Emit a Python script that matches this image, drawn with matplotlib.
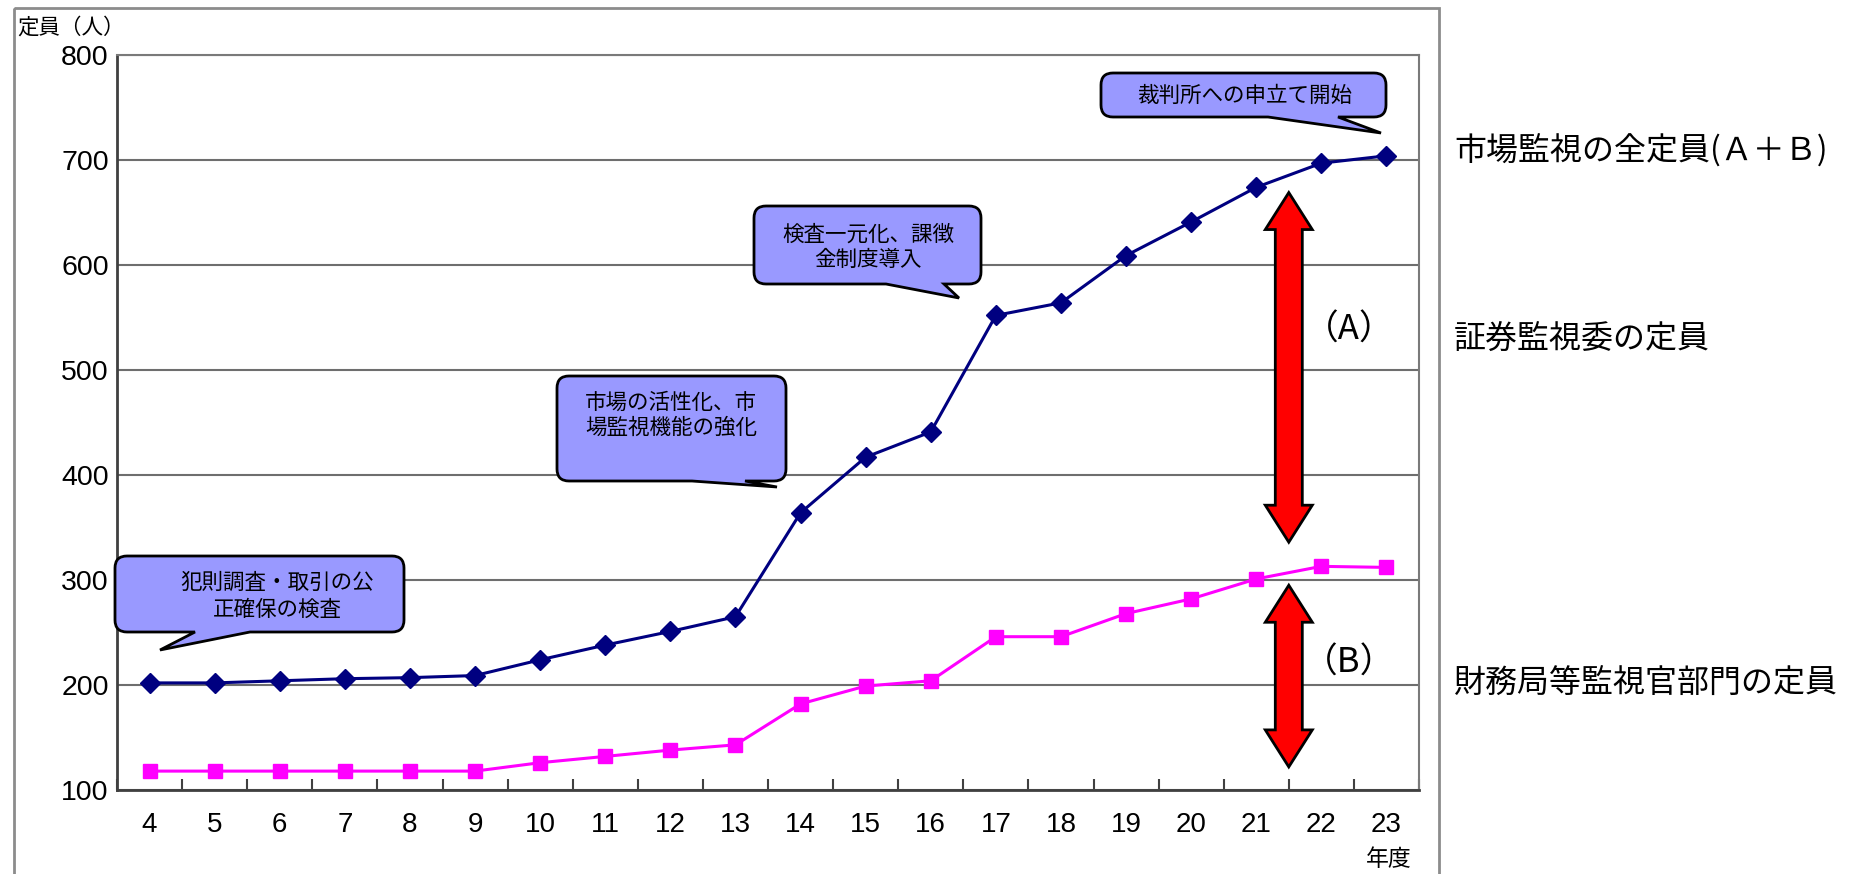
import numpy as np
import matplotlib
matplotlib.use("Agg")
import matplotlib.pyplot as plt
from matplotlib.path import Path
from matplotlib.patches import PathPatch, Polygon, Rectangle
import matplotlib.transforms as mtransforms

# ---------------- data ----------------
years = ["4", "5", "6", "7", "8", "9", "10", "11", "12", "13",
         "14", "15", "16", "17", "18", "19", "20", "21", "22", "23"]
total_staff = [202, 202, 204, 206, 207, 209, 224, 238, 251, 265,
               364, 417, 441, 552, 564, 609, 641, 674, 697, 704]
bureau_staff = [118, 118, 118, 118, 118, 118, 126, 132, 138, 143,
                182, 199, 204, 246, 246, 268, 282, 301, 313, 312]
y_ticks = [100, 200, 300, 400, 500, 600, 700, 800]

callout_texts = [["犯則調査・取引の公", "正確保の検査"],
                 ["市場の活性化、市", "場監視機能の強化"],
                 ["検査一元化、課徴", "金制度導入"],
                 ["裁判所への申立て開始"]]
side_labels = ["市場監視の全定員(Ａ＋Ｂ)", "証券監視委の定員", "財務局等監視官部門の定員"]
arrow_labels = ["（A）", "（B）"]
y_label = "定員（人）"
x_label = "年度"

# ---------------- figure ----------------
plt.rcParams['font.family'] = ['Noto Sans CJK JP', 'DejaVu Sans']
W, H = 1856, 874
fig = plt.figure(figsize=(W / 100, H / 100), dpi=100)
fig.patch.set_facecolor('white')

# pixel-coordinate transform (origin top-left, y down)
pxT = mtransforms.Affine2D().scale(1 / W, -1 / H).translate(0, 1) + fig.transFigure

# outer frame
fig.patches.append(Rectangle((14, 8), 1439 - 14, 900, transform=pxT, fill=False,
                             ec='#8c8c8c', lw=2, clip_on=False))

AX_L, AX_R, AX_T, AX_B = 117, 1419, 55, 790
ax = fig.add_axes([AX_L / W, 1 - AX_B / H, (AX_R - AX_L) / W, (AX_B - AX_T) / H])
x = np.arange(len(years))
ax.plot(x, total_staff, color='#000080', lw=2.2, marker='D', ms=10, zorder=4)
ax.plot(x, bureau_staff, color='#FF00FF', lw=2.2, marker='s', ms=10.5, zorder=4)
ax.set_xlim(-0.5, len(years) - 0.5)
ax.set_ylim(100, 800)
ax.set_yticks(y_ticks)
ax.set_yticklabels([str(v) for v in y_ticks], fontsize=20.5, family=['Liberation Sans', 'DejaVu Sans'])
ax.yaxis.grid(True, color='#6e6e6e', lw=1.5)
ax.set_axisbelow(True)
ax.tick_params(axis='y', length=0, pad=6)
ax.set_xticks(np.arange(-0.5, len(years), 1))
ax.set_xticklabels([])
ax.set_xticks(x, minor=True)
ax.set_xticklabels(years, minor=True, fontsize=20, family=['Liberation Sans', 'DejaVu Sans'])
ax.tick_params(axis='x', which='major', direction='in', length=8, width=1.5, color='#404040')
ax.tick_params(axis='x', which='minor', length=0, pad=16)
for side in ['top', 'right']:
    ax.spines[side].set_color('#7a7a7a')
    ax.spines[side].set_linewidth(1.5)
for side in ['left', 'bottom']:
    ax.spines[side].set_color('#404040')
    ax.spines[side].set_linewidth(2)

# ---------------- red double arrows ----------------
px_per_x = (AX_R - AX_L) / len(years)
px_per_y = (AX_B - AX_T) / (800 - 100)


def double_arrow(xc, y0, y1, shaft_px=27, head_px=47, headlen_px=37):
    hs = shaft_px / 2 / px_per_x
    hh = head_px / 2 / px_per_x
    hl = headlen_px / px_per_y
    verts = [(xc - hs, y0 + hl), (xc - hh, y0 + hl), (xc, y0), (xc + hh, y0 + hl),
             (xc + hs, y0 + hl), (xc + hs, y1 - hl), (xc + hh, y1 - hl), (xc, y1),
             (xc - hh, y1 - hl), (xc - hs, y1 - hl)]
    ax.add_patch(Polygon(verts, closed=True, fc='#FF0000', ec='black', lw=2,
                         zorder=5, clip_on=False, joinstyle='miter'))


double_arrow(17.5, 336, 669)
double_arrow(17.5, 122, 295)

# ---------------- callouts ----------------
def callout(box, tail, r=12):
    x0, y0, x1, y1 = box
    bx0, bx1, tx, ty = tail
    M, L, C, Z = Path.MOVETO, Path.LINETO, Path.CURVE3, Path.CLOSEPOLY
    verts = [(x0 + r, y0), (x1 - r, y0), (x1, y0), (x1, y0 + r), (x1, y1 - r),
             (x1, y1), (x1 - r, y1), (bx1, y1), (tx, ty), (bx0, y1), (x0 + r, y1),
             (x0, y1), (x0, y1 - r), (x0, y0 + r), (x0, y0), (x0 + r, y0), (x0 + r, y0)]
    codes = [M, L, C, C, L, C, C, L, L, L, L, C, C, L, C, C, Z]
    fig.patches.append(PathPatch(Path(verts, codes), transform=pxT, fc='#9999FF',
                                 ec='black', lw=2, zorder=6, joinstyle='miter'))


callout_boxes = [(115, 556, 404, 632), (557, 376, 786, 481), (754, 206, 981, 284), (1101, 73, 1386, 117)]
callout_tails = [(195, 250, 160, 650), (692, 745, 777, 487), (886, 944, 959, 298), (1268, 1338, 1381, 133)]
callout_text_pos = [(277, [583, 610]), (671, [403, 428]), (868, [235, 260]), (1245, [96])]

for box, tail, (tx, tys), lines in zip(callout_boxes, callout_tails, callout_text_pos, callout_texts):
    callout(box, tail)
    for ty, line in zip(tys, lines):
        fig.text(tx, ty, line, transform=pxT, ha='center', va='center', fontsize=15.5,
                 color='black', zorder=7)

# ---------------- labels ----------------
fig.text(1349, 330, arrow_labels[0], transform=pxT, ha='center', va='center', fontsize=25)
fig.text(1349, 663, arrow_labels[1], transform=pxT, ha='center', va='center', fontsize=25)

for yy, lab in zip([151.5, 338.5, 684], side_labels):
    fig.text(1454, yy, lab, transform=pxT, ha='left', va='center', fontsize=23)

fig.text(17, 28, y_label, transform=pxT, ha='left', va='center', fontsize=15.5)
fig.text(1389, 860, x_label, transform=pxT, ha='center', va='center', fontsize=16.5)

fig.savefig('out.png', dpi=100, facecolor='white')
